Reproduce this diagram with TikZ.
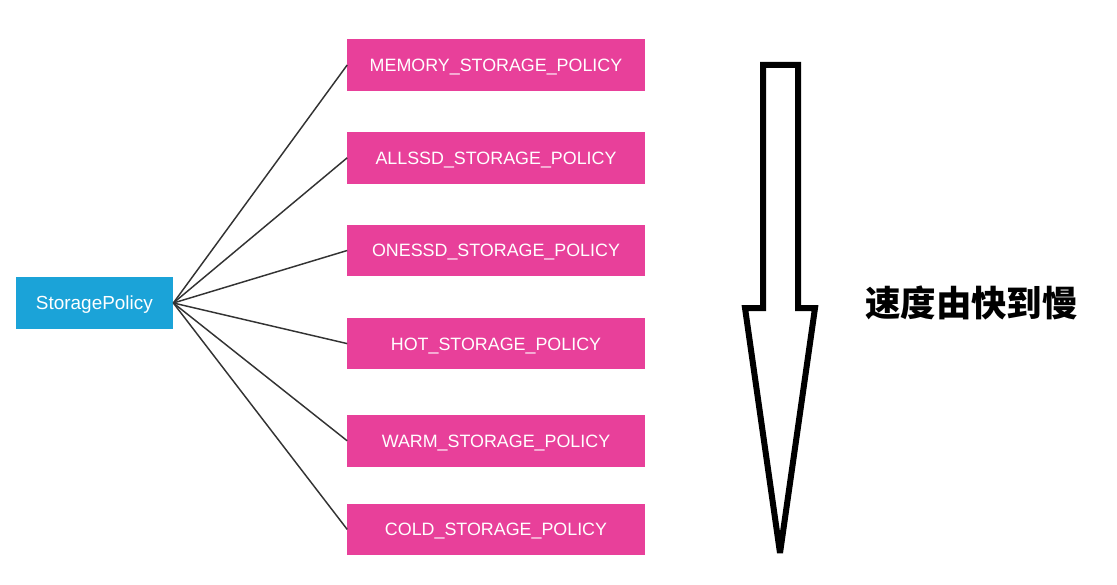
\documentclass[tikz,border=0pt]{standalone}
\usepackage{fontspec}
\setmainfont{Liberation Sans}
\newfontfamily\cjk{Noto Sans CJK SC}
\usepackage{tikz}
\usetikzlibrary{arrows.meta,calc,positioning}
\definecolor{rootblue}{HTML}{1BA3D8}
\definecolor{policypink}{HTML}{E8409A}
\tikzset{
  rootbox/.style   = {fill=rootblue, text=white, minimum width=118pt, minimum height=38.8pt,
                      inner sep=0pt, text height=10.2pt, text depth=0pt,
                      font=\fontsize{14.2}{16}\selectfont},
  policybox/.style = {fill=policypink, text=white, minimum width=222.8pt, minimum height=38.8pt,
                      inner sep=0pt, text height=9.6pt, text depth=0pt,
                      font=\fontsize{13.4}{16}\selectfont},
  wire/.style      = {draw=black!80, line width=1.1pt},
  bigarrow/.style  = {draw=black, line width=4.5pt, miter limit=2},
}

\begin{document}
\begin{tikzpicture}[x=0.75pt,y=-0.75pt]
  \useasboundingbox (0,0) rectangle (1117,585);
  \node[rootbox] (root) at (94.4,303) {StoragePolicy};
  \node[policybox] (memory) at (496,65)    {MEMORY\_STORAGE\_POLICY};
  \node[policybox] (allssd) at (496,157.8) {ALLSSD\_STORAGE\_POLICY};
  \node[policybox] (onessd) at (496,250.5) {ONESSD\_STORAGE\_POLICY};
  \node[policybox] (hot)    at (496,343.6) {HOT\_STORAGE\_POLICY};
  \node[policybox] (warm)   at (496,440.8) {WARM\_STORAGE\_POLICY};
  \node[policybox] (cold)   at (496,529.4) {COLD\_STORAGE\_POLICY};
  \foreach \p in {memory,allssd,onessd,hot,warm,cold}
    \draw[wire] (root.east) -- (\p.west);
  % speed arrow
  \draw[bigarrow] (763,65) -- (798,65) -- (798,308) -- (815,308) -- (780,553)
      -- (745,308) -- (763,308) -- cycle;
  \node[font={\cjk\bfseries\fontsize{26.6}{30}\selectfont}] (speed) at (971.5,303) {速度由快到慢};
\end{tikzpicture}
\end{document}
